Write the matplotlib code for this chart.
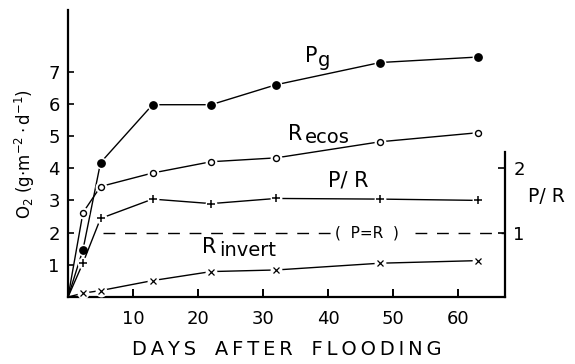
import numpy as np
import matplotlib
matplotlib.use("Agg")
import matplotlib.pyplot as plt

# days after flooding at which each series was sampled
days = [2.3, 5.0, 13.0, 22.0, 32.0, 48.0, 63.0]

# O2 (g m-2 d-1)
pg = [1.47, 4.17, 5.97, 5.97, 6.59, 7.28, 7.45]
r_ecos = [2.62, 3.43, 3.85, 4.20, 4.32, 4.82, 5.10]
r_invert = [0.12, 0.20, 0.51, 0.79, 0.84, 1.05, 1.13]
# P/R ratio (right axis)
p_over_r = [0.53, 1.22, 1.52, 1.45, 1.53, 1.52, 1.50]

x_ticks = [10, 20, 30, 40, 50, 60]
y_ticks = [1, 2, 3, 4, 5, 6, 7]
pr_ticks = [1, 2]

plt.rcParams['font.family'] = ['DejaVu Sans']

fig = plt.figure(figsize=(5.75, 3.64), dpi=100)
ax = fig.add_axes([0.1183, 0.184, 0.76, 0.7885])
ax2 = ax.twinx()

x_max = 67.2
y_max = 8.91
ax.set_xlim(0, x_max)
ax.set_ylim(0, y_max)
ax2.set_ylim(0, y_max / 2)


def draw_series(axis, values, marker, ms, mfc, mew):
    xs = [0] + days
    ys = [0] + values
    axis.plot(xs, ys, color='black', lw=1.0, zorder=2, clip_on=False)
    # white halo so the line stops short of each marker
    axis.plot(days, values, ls='none', marker='o', ms=7.5, mfc='white',
              mec='white', zorder=3, clip_on=False)
    axis.plot(days, values, ls='none', marker=marker, ms=ms, mfc=mfc,
              mec='black', mew=mew, zorder=4, clip_on=False)


draw_series(ax, pg, 'o', 5.3, 'black', 1.0)
draw_series(ax, r_ecos, 'o', 4.3, 'white', 1.0)
draw_series(ax, r_invert, 'x', 4.2, 'black', 0.9)
draw_series(ax2, p_over_r, '+', 5.2, 'black', 1.1)

# P = R reference line
ax2.plot([5.4, 40.6], [1, 1], color='black', lw=1.0, dashes=(8.5, 7))
ax2.plot([53.4, x_max], [1, 1], color='black', lw=1.0, dashes=(8.5, 7))
ax.text(46.0, 1.99, '(  P=R  )', fontsize=11, ha='center', va='center')

# series labels
ax.text(38.3, 7.30, 'P', fontsize=15, ha='right', va='baseline')
ax.text(38.4, 7.18, 'g', fontsize=14, ha='left', va='baseline')
ax.text(36.0, 4.88, 'R', fontsize=15, ha='right', va='baseline')
ax.text(36.4, 4.79, 'ecos', fontsize=14, ha='left', va='baseline')
ax.text(43.1, 3.42, 'P/ R', fontsize=15, ha='center', va='baseline')
ax.text(22.8, 1.37, 'R', fontsize=15, ha='right', va='baseline')
ax.text(23.2, 1.28, 'invert', fontsize=14, ha='left', va='baseline')

# left / bottom axes
for side in ['top', 'right']:
    ax.spines[side].set_visible(False)
for side in ['left', 'bottom']:
    ax.spines[side].set_linewidth(1.6)
ax.set_xticks(x_ticks)
ax.set_yticks(y_ticks)
ax.tick_params(axis='y', direction='in', length=4, width=1.2, labelsize=13, pad=6)
ax.tick_params(axis='x', direction='in', length=6, width=1.4, labelsize=13, pad=9)

# right P/R axis
for side in ['top', 'left', 'bottom']:
    ax2.spines[side].set_visible(False)
ax2.spines['right'].set_linewidth(1.6)
ax2.spines['right'].set_bounds(0, 2.25)
ax2.set_yticks(pr_ticks)
ax2.tick_params(axis='y', direction='in', length=5, width=1.2, labelsize=13, pad=6)
ax.text(73.5, 3.11, 'P/ R', fontsize=13.5, ha='center', va='center', clip_on=False)

ax.set_ylabel(r'O$_2$ (g$\cdot$m$^{-2}\cdot$d$^{-1}$)', fontsize=12, labelpad=8)
xlabel = '   '.join('\u2009'.join(w) for w in ['DAYS', 'AFTER', 'FLOODING'])
ax.set_xlabel(xlabel, fontsize=14, labelpad=9)

fig.savefig('out.png', dpi=100)
